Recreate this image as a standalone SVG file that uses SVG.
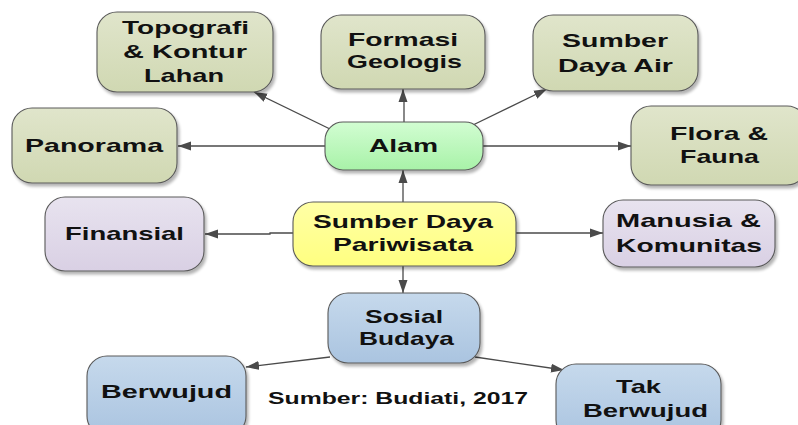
<svg xmlns="http://www.w3.org/2000/svg" width="798" height="425" viewBox="0 0 798 425">
<style>
  .box { stroke: #5a5a5a; stroke-width: 1.1; filter: url(#sh); }
  .t { font-family: "Liberation Sans", Arial, sans-serif; font-weight: bold; font-size: 19px; fill: #111; }
  .cap { font-family: "Liberation Sans", Arial, sans-serif; font-weight: bold; font-size: 16px; fill: #111; }
  .c { fill: none; stroke: #4a4a4a; stroke-width: 1.3; marker-end: url(#ah); }
</style>
<defs>
  <marker id="ah" markerUnits="userSpaceOnUse" markerWidth="14" markerHeight="10" refX="13" refY="5" orient="auto">
    <path d="M0,0.5 L13,5 L0,9.5 Z" fill="#4a4a4a"/>
  </marker>
  <filter id="sh" x="-10%" y="-10%" width="125%" height="130%">
    <feGaussianBlur in="SourceAlpha" stdDeviation="1.5"/>
    <feOffset dx="2" dy="2.5" result="o"/>
    <feComponentTransfer><feFuncA type="linear" slope="0.3"/></feComponentTransfer>
    <feMerge><feMergeNode/><feMergeNode in="SourceGraphic"/></feMerge>
  </filter>
  <linearGradient id="gOl" x1="0" y1="0" x2="0" y2="1">
    <stop offset="0" stop-color="#e0e5cb"/><stop offset="1" stop-color="#d0d8b2"/>
  </linearGradient>
  <linearGradient id="gLv" x1="0" y1="0" x2="0" y2="1">
    <stop offset="0" stop-color="#e8e3ef"/><stop offset="1" stop-color="#d9d0e4"/>
  </linearGradient>
  <linearGradient id="gBl" x1="0" y1="0" x2="0" y2="1">
    <stop offset="0" stop-color="#c6d9ec"/><stop offset="1" stop-color="#aac4e0"/>
  </linearGradient>
  <linearGradient id="gGr" x1="0" y1="0" x2="0" y2="1">
    <stop offset="0" stop-color="#d2fdd2"/><stop offset="1" stop-color="#a8f2a8"/>
  </linearGradient>
  <linearGradient id="gYe" x1="0" y1="0" x2="0" y2="1">
    <stop offset="0" stop-color="#ffffa6"/><stop offset="1" stop-color="#ffff80"/>
  </linearGradient>
</defs>

<g id="connectors">
  <line class="c" x1="330" y1="129" x2="254" y2="92"/>
  <polyline class="c" points="404,122 404,102 403,100 403,89"/>
  <line class="c" x1="473" y1="125" x2="547" y2="89"/>
  <line class="c" x1="325" y1="146" x2="178" y2="146"/>
  <line class="c" x1="483" y1="146" x2="631" y2="146"/>
  <line class="c" x1="403" y1="202" x2="403" y2="170"/>
  <polyline class="c" points="293,233 270,233 270,234 205,234"/>
  <line class="c" x1="516" y1="233" x2="603" y2="233"/>
  <line class="c" x1="403" y1="266" x2="403" y2="293"/>
  <line class="c" x1="330" y1="357" x2="246" y2="367"/>
  <line class="c" x1="475" y1="357" x2="564" y2="370"/>
</g>

<g id="topografi">
  <rect class="box" x="97" y="12" width="176" height="80" rx="20" fill="url(#gOl)"/>
  <text class="t" x="122" y="34" textLength="127" lengthAdjust="spacingAndGlyphs">Topografi</text>
  <text class="t" x="123" y="58" textLength="124" lengthAdjust="spacingAndGlyphs">&amp; Kontur</text>
  <text class="t" x="144" y="82" textLength="80" lengthAdjust="spacingAndGlyphs">Lahan</text>
</g>
<g id="formasi">
  <rect class="box" x="321" y="15" width="164" height="74" rx="20" fill="url(#gOl)"/>
  <text class="t" x="348" y="46" textLength="110" lengthAdjust="spacingAndGlyphs">Formasi</text>
  <text class="t" x="347" y="68" textLength="115" lengthAdjust="spacingAndGlyphs">Geologis</text>
</g>
<g id="sumber-air">
  <rect class="box" x="533" y="15" width="165" height="76" rx="20" fill="url(#gOl)"/>
  <text class="t" x="562" y="47" textLength="106" lengthAdjust="spacingAndGlyphs">Sumber</text>
  <text class="t" x="558" y="72" textLength="115" lengthAdjust="spacingAndGlyphs">Daya Air</text>
</g>
<g id="panorama">
  <rect class="box" x="12" y="108" width="165" height="75" rx="20" fill="url(#gOl)"/>
  <text class="t" x="25" y="152" textLength="138" lengthAdjust="spacingAndGlyphs">Panorama</text>
</g>
<g id="alam">
  <rect class="box" x="325" y="122" width="158" height="48" rx="18" fill="url(#gGr)"/>
  <text class="t" x="369" y="152" textLength="69" lengthAdjust="spacingAndGlyphs">Alam</text>
</g>
<g id="flora">
  <rect class="box" x="631" y="106" width="176" height="79" rx="20" fill="url(#gOl)"/>
  <text class="t" x="670" y="140" textLength="98" lengthAdjust="spacingAndGlyphs">Flora &amp;</text>
  <text class="t" x="680" y="163" textLength="79" lengthAdjust="spacingAndGlyphs">Fauna</text>
</g>
<g id="finansial">
  <rect class="box" x="45" y="197" width="159" height="74" rx="20" fill="url(#gLv)"/>
  <text class="t" x="65" y="240" textLength="119" lengthAdjust="spacingAndGlyphs">Finansial</text>
</g>
<g id="pariwisata">
  <rect class="box" x="293" y="202" width="223" height="64" rx="20" fill="url(#gYe)"/>
  <text class="t" x="313" y="228" textLength="180" lengthAdjust="spacingAndGlyphs">Sumber Daya</text>
  <text class="t" x="333" y="251" textLength="140" lengthAdjust="spacingAndGlyphs">Pariwisata</text>
</g>
<g id="manusia">
  <rect class="box" x="603" y="200" width="172" height="67" rx="20" fill="url(#gLv)"/>
  <text class="t" x="616" y="227" textLength="145" lengthAdjust="spacingAndGlyphs">Manusia &amp;</text>
  <text class="t" x="616" y="252" textLength="146" lengthAdjust="spacingAndGlyphs">Komunitas</text>
</g>
<g id="sosial">
  <rect class="box" x="328" y="293" width="152" height="70" rx="20" fill="url(#gBl)"/>
  <text class="t" x="365" y="323" textLength="78" lengthAdjust="spacingAndGlyphs">Sosial</text>
  <text class="t" x="359" y="345" textLength="95" lengthAdjust="spacingAndGlyphs">Budaya</text>
</g>
<g id="berwujud">
  <rect class="box" x="87" y="356" width="159" height="80" rx="20" fill="url(#gBl)"/>
  <text class="t" x="101" y="398" textLength="131" lengthAdjust="spacingAndGlyphs">Berwujud</text>
</g>
<g id="tak-berwujud">
  <rect class="box" x="556" y="364" width="165" height="76" rx="20" fill="url(#gBl)"/>
  <text class="t" x="616" y="393" textLength="45" lengthAdjust="spacingAndGlyphs">Tak</text>
  <text class="t" x="583" y="417" textLength="125" lengthAdjust="spacingAndGlyphs">Berwujud</text>
</g>
<text class="cap" x="268" y="404" textLength="260" lengthAdjust="spacingAndGlyphs">Sumber: Budiati, 2017</text>
</svg>
